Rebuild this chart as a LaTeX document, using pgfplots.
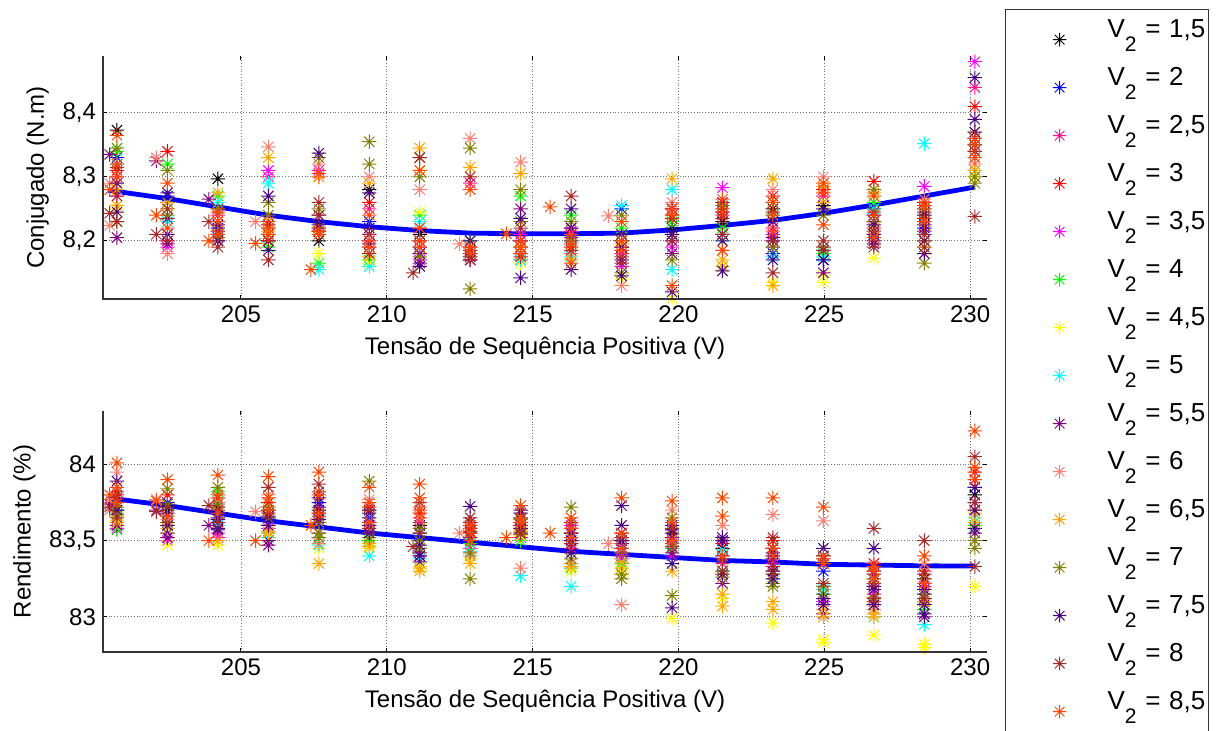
\documentclass[border=0pt]{standalone}
\usepackage{fontspec}
\setmainfont{Liberation Sans}
\usepackage{pgfplots}
\usepackage{pgfplotstable}
\pgfplotsset{compat=1.18}

\definecolor{c1}{rgb}{0,0,0}
\definecolor{c2}{rgb}{0,0,1}
\definecolor{c3}{rgb}{1,0.08,0.58}
\definecolor{c4}{rgb}{1,0,0}
\definecolor{c5}{rgb}{1,0,1}
\definecolor{c6}{rgb}{0,1,0}
\definecolor{c7}{rgb}{1,1,0}
\definecolor{c8}{rgb}{0,1,1}
\definecolor{c9}{rgb}{0.5,0,0.5}
\definecolor{c10}{rgb}{0.98,0.5,0.45}
\definecolor{c11}{rgb}{1,0.65,0}
\definecolor{c12}{rgb}{0.5,0.5,0}
\definecolor{c13}{rgb}{0.29,0,0.51}
\definecolor{c14}{rgb}{0.65,0.16,0.16}
\definecolor{c15}{rgb}{1,0.27,0}

\pgfdeclareplotmark{mstar}{%
  \pgfpathmoveto{\pgfqpoint{-\pgfplotmarksize}{0pt}}\pgfpathlineto{\pgfqpoint{\pgfplotmarksize}{0pt}}%
  \pgfpathmoveto{\pgfqpoint{0pt}{-\pgfplotmarksize}}\pgfpathlineto{\pgfqpoint{0pt}{\pgfplotmarksize}}%
  \pgfpathmoveto{\pgfqpoint{-0.7071\pgfplotmarksize}{-0.7071\pgfplotmarksize}}\pgfpathlineto{\pgfqpoint{0.7071\pgfplotmarksize}{0.7071\pgfplotmarksize}}%
  \pgfpathmoveto{\pgfqpoint{-0.7071\pgfplotmarksize}{0.7071\pgfplotmarksize}}\pgfpathlineto{\pgfqpoint{0.7071\pgfplotmarksize}{-0.7071\pgfplotmarksize}}%
  \pgfusepathqstroke}

% columns: x  t (torque, N.m)  e (efficiency, %)
\pgfplotstableread{
x t e
200.75 8.373 83.70
202.48 8.26 83.70
204.21 8.297 83.72
205.94 8.21 83.70
207.67 8.20 83.70
209.40 8.28 83.70
211.13 8.21 83.60
212.86 8.18 83.55
214.59 8.19 83.60
216.32 8.21 83.55
218.05 8.20 83.50
219.78 8.22 83.55
221.51 8.23 83.45
223.24 8.25 83.45
224.97 8.255 83.40
226.70 8.25 83.30
228.43 8.24 83.25
230.16 8.35 83.80
}\sA
\pgfplotstableread{
x t e
200.75 8.33 83.62
202.48 8.27 83.75
204.21 8.22 83.65
205.94 8.22 83.65
207.67 8.215 83.75
209.40 8.23 83.65
211.13 8.18 83.55
212.86 8.20 83.62
214.59 8.18 83.65
216.32 8.20 83.50
218.05 8.25 83.45
219.78 8.21 83.60
221.51 8.21 83.40
223.24 8.18 83.40
224.97 8.17 83.30
226.70 8.24 83.20
228.43 8.22 83.15
230.16 8.36 83.85
}\sB
\pgfplotstableread{
x t e
200.75 8.30 83.75
202.48 8.20 83.52
204.21 8.24 83.55
205.94 8.30 83.60
207.67 8.30 83.62
209.40 8.25 83.55
211.13 8.20 83.62
212.86 8.29 83.50
214.59 8.20 83.55
216.32 8.22 83.45
218.05 8.18 83.40
219.78 8.25 83.48
221.51 8.24 83.35
223.24 8.22 83.30
224.97 8.27 83.20
226.70 8.23 83.10
228.43 8.25 83.20
230.16 8.44 83.90
}\sC
\pgfplotstableread{
x t e
200.75 8.31 83.80
202.48 8.34 83.80
204.21 8.25 83.78
205.94 8.20 83.75
207.67 8.22 83.68
209.40 8.26 83.72
211.13 8.22 83.68
212.86 8.19 83.58
214.59 8.17 83.58
216.32 8.19 83.48
218.05 8.19 83.55
219.78 8.24 83.52
221.51 8.25 83.48
223.24 8.27 83.50
224.97 8.28 83.35
226.70 8.293 83.35
228.43 8.26 83.30
230.16 8.41 83.95
}\sD
\pgfplotstableread{
x t e
200.75 8.27 83.58
202.48 8.19 83.50
204.21 8.21 83.52
205.94 8.31 83.58
207.67 8.31 83.55
209.40 8.20 83.60
211.13 8.17 83.40
212.86 8.17 83.45
214.59 8.21 83.52
216.32 8.215 83.60
218.05 8.16 83.38
219.78 8.19 83.40
221.51 8.283 83.50
223.24 8.21 83.35
224.97 8.19 83.10
226.70 8.22 83.15
228.43 8.285 83.22
230.16 8.48 83.75
}\sE
\pgfplotstableread{
x t e
200.75 8.34 83.57
202.48 8.32 83.60
204.21 8.27 83.82
205.94 8.19 83.55
207.67 8.165 83.52
209.40 8.17 83.50
211.13 8.24 83.45
212.86 8.20 83.48
214.59 8.27 83.50
216.32 8.24 83.32
218.05 8.22 83.35
219.78 8.23 83.45
221.51 8.22 83.30
223.24 8.24 83.28
224.97 8.18 83.15
226.70 8.26 83.25
228.43 8.23 83.05
230.16 8.31 83.60
}\sF
\pgfplotstableread{
x t e
200.75 8.25 83.63
202.48 8.25 83.47
204.21 8.23 83.47
205.94 8.22 83.50
207.67 8.18 83.45
209.40 8.165 83.45
211.13 8.245 83.33
212.86 8.175 83.38
214.59 8.165 83.53
216.32 8.18 83.30
218.05 8.14 83.30
219.78 8.11 82.99
221.51 8.16 83.12
223.24 8.135 82.96
224.97 8.135 82.85
224.97 8.145 82.83
226.70 8.173 82.88
228.43 8.20 82.82
228.43 8.19 82.80
230.16 8.30 83.20
}\sG
\pgfplotstableread{
x t e
200.75 8.32 83.68
202.48 8.23 83.55
204.21 8.26 83.60
205.94 8.29 83.52
207.67 8.155 83.47
209.40 8.16 83.40
211.13 8.23 83.38
212.86 8.18 83.43
214.59 8.17 83.27
216.32 8.175 83.20
218.05 8.255 83.42
219.78 8.155 83.35
219.78 8.28 83.50
221.51 8.20 83.44
223.24 8.175 83.25
224.97 8.175 83.18
226.70 8.25 83.00
228.43 8.352 82.95
230.16 8.33 83.65
}\sH
\pgfplotstableread{
x t e
200.75 8.205 83.60
200.50 8.335 83.74
202.48 8.195 83.52
202.48 8.235 83.55
202.10 8.325 83.70
204.21 8.20 83.57
203.90 8.265 83.60
205.94 8.20 83.47
205.94 8.225 83.50
207.67 8.24 83.72
209.40 8.21 83.62
211.13 8.165 83.42
211.13 8.18 83.36
212.86 8.17 83.60
214.59 8.25 83.62
216.32 8.205 83.58
218.05 8.17 83.48
219.78 8.18 83.42
219.78 8.20 83.52
221.51 8.26 83.22
223.24 8.20 83.38
223.24 8.19 83.45
224.97 8.15 83.02
226.70 8.20 83.28
226.70 8.23 83.20
228.43 8.215 83.00
228.43 8.245 83.10
230.16 8.34 83.55
}\sI
\pgfplotstableread{
x t e
200.75 8.29 83.95
200.50 8.29 83.77
200.50 8.224 83.70
202.48 8.18 83.64
202.10 8.33 83.77
204.21 8.215 83.75
205.94 8.347 83.80
205.50 8.23 83.69
207.67 8.32 83.48
209.40 8.30 83.77
211.13 8.28 83.72
212.86 8.36 83.40
212.50 8.195 83.55
214.59 8.323 83.32
216.32 8.18 83.35
218.05 8.13 83.08
217.60 8.239 83.48
219.78 8.26 83.70
221.51 8.185 83.60
223.24 8.28 83.67
224.97 8.30 83.63
226.70 8.21 83.05
228.43 8.265 83.35
230.16 8.32 83.70
}\sJ
\pgfplotstableread{
x t e
200.75 8.255 83.66
200.75 8.28 83.62
202.48 8.26 83.58
204.21 8.275 83.50
205.94 8.33 83.55
205.94 8.215 83.56
207.67 8.30 83.35
209.40 8.29 83.48
209.40 8.175 83.46
211.13 8.345 83.32
211.13 8.31 83.30
212.86 8.315 83.35
214.59 8.305 83.56
214.59 8.19 83.57
216.32 8.17 83.33
218.05 8.21 83.32
218.05 8.195 83.36
219.78 8.297 83.30
221.51 8.17 83.07
221.51 8.16 83.15
223.24 8.297 83.05
223.24 8.13 83.10
224.97 8.285 83.05
224.97 8.26 83.00
226.70 8.275 83.02
226.70 8.22 83.00
228.43 8.18 83.08
228.43 8.20 83.10
230.16 8.37 83.68
230.16 8.31 83.62
}\sK
\pgfplotstableread{
x t e
200.75 8.345 83.72
200.75 8.23 83.67
202.48 8.31 83.84
202.48 8.24 83.74
204.21 8.25 83.85
204.21 8.205 83.74
205.94 8.26 83.72
205.94 8.24 83.65
207.67 8.33 83.52
207.67 8.22 83.55
207.67 8.25 83.62
209.40 8.355 83.89
209.40 8.32 83.52
211.13 8.30 83.50
211.13 8.33 83.58
211.13 8.175 83.45
212.86 8.125 83.25
212.86 8.345 83.42
214.59 8.28 83.54
214.59 8.23 83.64
216.32 8.23 83.72
216.32 8.20 83.38
218.05 8.24 83.28
218.05 8.15 83.25
219.78 8.17 83.14
219.78 8.235 83.65
221.51 8.255 83.26
223.24 8.19 83.20
223.24 8.26 83.22
224.97 8.24 83.20
224.97 8.19 83.15
226.70 8.23 83.08
226.70 8.28 83.13
228.43 8.165 83.12
228.43 8.25 83.15
230.16 8.29 83.45
230.16 8.30 83.50
}\sL
\pgfplotstableread{
x t e
200.75 8.245 83.89
200.75 8.29 83.70
202.48 8.275 83.68
202.48 8.21 83.60
204.21 8.20 83.58
204.21 8.225 83.64
205.94 8.27 83.60
205.94 8.185 83.66
207.67 8.337 83.78
207.67 8.225 83.64
209.40 8.275 83.68
209.40 8.22 83.55
209.40 8.195 83.60
211.13 8.16 83.40
211.13 8.19 83.47
212.86 8.20 83.725
212.86 8.175 83.52
214.59 8.142 83.68
214.59 8.235 83.70
214.59 8.20 83.58
216.32 8.155 83.42
216.32 8.25 83.50
216.32 8.22 83.55
218.05 8.145 83.73
218.05 8.21 83.60
218.05 8.19 83.50
219.78 8.12 83.06
219.78 8.21 83.57
219.78 8.25 83.35
221.51 8.153 83.52
221.51 8.20 83.50
221.51 8.245 83.28
223.24 8.17 83.42
223.24 8.23 83.30
223.24 8.205 83.25
224.97 8.185 83.12
224.97 8.25 83.45
224.97 8.17 83.08
226.70 8.195 83.45
226.70 8.225 83.18
226.70 8.21 83.08
228.43 8.225 83.18
228.43 8.20 83.02
228.43 8.18 83.08
230.16 8.455 83.58
230.16 8.39 83.85
230.16 8.37 83.70
}\sM
\pgfplotstableread{
x t e
200.75 8.315 83.82
200.50 8.243 83.72
200.75 8.23 83.65
200.75 8.27 83.78
202.48 8.20 83.72
202.10 8.21 83.69
202.48 8.25 83.62
204.21 8.19 83.70
203.90 8.23 83.73
204.21 8.215 83.62
205.94 8.17 83.85
205.94 8.20 83.68
207.67 8.26 83.87
207.67 8.24 83.82
207.67 8.215 83.66
209.40 8.19 83.58
209.40 8.18 83.70
209.40 8.21 83.62
211.13 8.33 83.75
210.90 8.15 83.46
211.13 8.20 83.55
212.86 8.30 83.65
212.86 8.17 83.62
212.86 8.185 83.56
214.59 8.22 83.60
214.59 8.175 83.55
216.32 8.27 83.62
216.32 8.185 83.48
218.05 8.175 83.52
218.05 8.165 83.42
219.78 8.20 83.58
219.78 8.235 83.46
221.51 8.235 83.38
221.51 8.21 83.30
223.24 8.15 83.52
223.24 8.245 83.33
223.24 8.20 83.28
224.97 8.20 83.38
224.97 8.185 83.22
226.70 8.19 83.58
226.70 8.245 83.22
226.70 8.215 83.12
228.43 8.19 83.50
228.43 8.21 83.28
228.43 8.235 83.12
230.16 8.238 84.05
230.16 8.36 83.33
230.16 8.34 83.75
}\sN
\pgfplotstableread{
x t e
200.75 8.365 84.01
200.50 8.28 83.80
200.75 8.30 83.85
200.75 8.32 83.75
202.48 8.29 83.90
202.10 8.24 83.76
202.48 8.22 83.66
204.21 8.23 83.93
204.21 8.21 83.80
203.90 8.20 83.50
204.21 8.245 83.68
205.94 8.21 83.92
205.50 8.196 83.50
205.94 8.23 83.78
205.94 8.22 83.70
207.67 8.215 83.95
207.40 8.155 83.60
207.67 8.305 83.80
207.67 8.21 83.68
209.40 8.20 83.85
209.40 8.24 83.75
209.40 8.19 83.62
211.13 8.20 83.87
211.13 8.31 83.65
211.13 8.22 83.78
211.13 8.19 83.70
212.86 8.28 83.55
212.86 8.18 83.50
212.86 8.19 83.60
214.59 8.18 83.73
214.10 8.211 83.52
214.59 8.20 83.65
214.59 8.19 83.62
216.32 8.195 83.65
215.60 8.253 83.55
216.32 8.165 83.52
216.32 8.21 83.58
218.05 8.23 83.78
218.05 8.20 83.55
218.05 8.185 83.45
219.78 8.13 83.76
219.78 8.25 83.62
219.78 8.24 83.50
221.51 8.265 83.78
221.51 8.185 83.66
221.51 8.245 83.40
223.24 8.26 83.78
223.24 8.215 83.45
223.24 8.24 83.40
224.97 8.29 83.72
224.97 8.225 83.40
224.97 8.275 83.35
226.70 8.27 83.33
226.70 8.205 83.30
226.70 8.24 83.25
228.43 8.255 83.40
228.43 8.23 83.22
230.16 8.35 84.22
230.16 8.33 83.98
230.16 8.36 83.90
}\sO

\newcommand\scat[3]{\addplot[only marks, mark=mstar, color=#1, mark options={solid, line width=0.5pt}] table[x=x,y=#3]{#2};}
\newcommand\vv[1]{V\raisebox{-7pt}{\fontsize{10.5}{10.5}\selectfont 2}\ = #1}

\pgfplotsset{
  mybase/.style={
    scale only axis, width=442pt,
    xmin=200.27, xmax=230.58,
    xtick={205,210,215,220,225,230},
    grid=major,
    major grid style={densely dotted, black!55, line width=0.45pt},
    axis line style={draw=none},
    tick style={black, line width=0.5pt},
    major tick length=2.2pt,
    tick align=inside,
    tick label style={font=\fontsize{12}{14}\selectfont, black},
    label style={font=\fontsize{12}{14}\selectfont},
    /pgf/number format/assume math mode=true,
    y tick label style={/pgf/number format/.cd, fixed, precision=1, use comma},
    xlabel={Tensão de Sequência Positiva (V)},
    mark size=3.6pt,
    extra description/.code={\draw[black!80, line width=0.6pt] (0,1) -- (0,0) -- (1,0);},
  }
}

\begin{document}
\begin{tikzpicture}
\begin{axis}[mybase,
  at={(51.5pt,216pt)}, anchor=south west,
  height=121.5pt,
  ymin=8.109, ymax=8.489,
  ytick={8.2,8.3,8.4},
  ylabel={Conjugado (N.m)},
  legend cell align=left,
  legend style={at={(1.0204,1.1934)}, anchor=north west,
    draw=black!80, line width=0.6pt,
    inner xsep=0pt, inner ysep=2pt, row sep=0pt,
    font=\fontsize{13}{15}\selectfont,
    nodes={text height=12pt, text depth=12pt, inner ysep=0pt, inner xsep=0pt, text width=50.5pt}},
  legend image code/.code={\path[draw=none] (0pt,0pt) -- (51pt,0pt); \draw[#1, mark size=3.4pt, line width=0.5pt] plot coordinates {(27pt,-1pt)};},
]
\scat{c1}{\sA}{t}\addlegendentry{\vv{1,5}}
\scat{c2}{\sB}{t}\addlegendentry{\vv{2}}
\scat{c3}{\sC}{t}\addlegendentry{\vv{2,5}}
\scat{c4}{\sD}{t}\addlegendentry{\vv{3}}
\scat{c5}{\sE}{t}\addlegendentry{\vv{3,5}}
\scat{c6}{\sF}{t}\addlegendentry{\vv{4}}
\scat{c7}{\sG}{t}\addlegendentry{\vv{4,5}}
\scat{c8}{\sH}{t}\addlegendentry{\vv{5}}
\scat{c9}{\sI}{t}\addlegendentry{\vv{5,5}}
\scat{c10}{\sJ}{t}\addlegendentry{\vv{6}}
\scat{c11}{\sK}{t}\addlegendentry{\vv{6,5}}
\scat{c12}{\sL}{t}\addlegendentry{\vv{7}}
\scat{c13}{\sM}{t}\addlegendentry{\vv{7,5}}
\scat{c14}{\sN}{t}\addlegendentry{\vv{8}}
\scat{c15}{\sO}{t}\addlegendentry{\vv{8,5}}
\addplot[blue, line width=2.4pt, forget plot] coordinates {
(200.45,8.279)(202.48,8.266)(204.21,8.253)(205.94,8.24)(207.67,8.23)(209.40,8.222)
(211.13,8.216)(212.86,8.212)(214.59,8.211)(216.32,8.211)(218.05,8.212)(219.78,8.217)
(221.51,8.224)(223.24,8.232)(224.97,8.243)(226.70,8.256)(228.43,8.27)(230.16,8.284)};
\end{axis}

\begin{axis}[mybase,
  at={(51.5pt,39.5pt)}, anchor=south west,
  height=120.5pt,
  ymin=82.77, ymax=84.35,
  ytick={83,83.5,84},
  ylabel={Rendimento (\%)},
]
\scat{c1}{\sA}{e}
\scat{c2}{\sB}{e}
\scat{c3}{\sC}{e}
\scat{c4}{\sD}{e}
\scat{c5}{\sE}{e}
\scat{c6}{\sF}{e}
\scat{c7}{\sG}{e}
\scat{c8}{\sH}{e}
\scat{c9}{\sI}{e}
\scat{c10}{\sJ}{e}
\scat{c11}{\sK}{e}
\scat{c12}{\sL}{e}
\scat{c13}{\sM}{e}
\scat{c14}{\sN}{e}
\scat{c15}{\sO}{e}
\addplot[blue, line width=2.4pt, forget plot] coordinates {
(200.45,83.78)(202.48,83.73)(204.21,83.68)(205.94,83.63)(207.67,83.59)(209.40,83.55)
(211.13,83.52)(212.86,83.49)(214.59,83.46)(216.32,83.43)(218.05,83.41)(219.78,83.39)
(221.51,83.37)(223.24,83.36)(224.97,83.345)(226.70,83.34)(228.43,83.335)(230.16,83.333)};
\end{axis}
\pgfresetboundingbox
\path[use as bounding box] (0pt,0pt) rectangle (608.5pt,365.5pt);
\end{tikzpicture}
\end{document}
